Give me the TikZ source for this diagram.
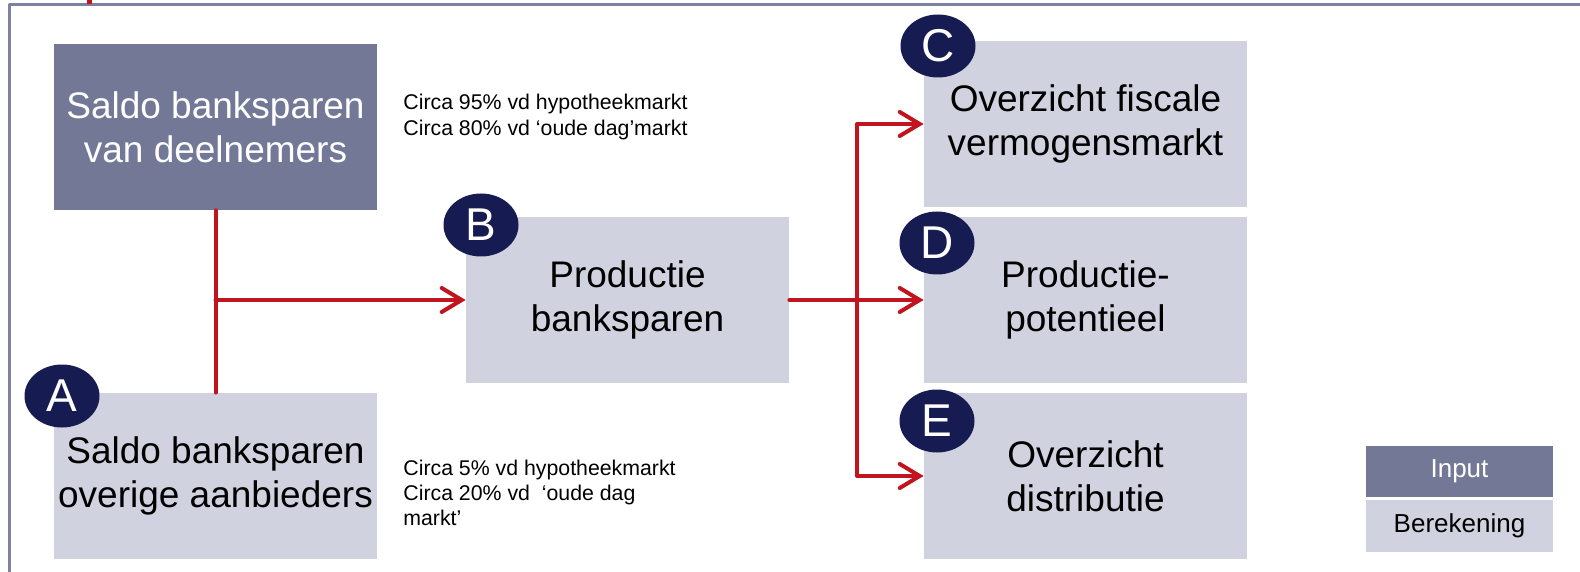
\documentclass[tikz,border=0pt]{standalone}
\usepackage{fontspec}
\setmainfont{Liberation Sans}
\usetikzlibrary{arrows.meta,shapes.geometric}
\definecolor{inputblue}{RGB}{115,120,150}
\definecolor{calcgrey}{RGB}{208,211,223}
\definecolor{badgenavy}{RGB}{22,28,82}
\definecolor{arrowred}{RGB}{192,20,31}
\definecolor{framegrey}{RGB}{125,130,162}
\begin{document}
\begin{tikzpicture}[x=0.5pt, y=-0.5pt, line join=round, line cap=round,
	box/.style={rectangle, minimum width=161.5pt, minimum height=83pt, inner sep=0pt, align=center, font=\fontsize{18.5}{22}\selectfont},
	inbox/.style={box, fill=inputblue, text=white},
	calcbox/.style={box, fill=calcgrey, text=black},
	badge/.style={ellipse, fill=badgenavy, text=white, minimum width=37.5pt, minimum height=31.5pt, inner sep=0pt, font=\fontsize{23}{23}\selectfont},
	note/.style={anchor=west, align=left, inner sep=0pt, font=\fontsize{10.65}{12.6}\selectfont},
	flow/.style={draw=arrowred, line width=2pt},
	>={Straight Barb[length=10pt, width=12pt, line cap=round]}]
	\useasboundingbox (0,0) rectangle (1580,572);
	\draw[framegrey, line width=1.5pt] (9,600) -- (9,5) -- (1600,5);
	\fill[arrowred] (87,0) rectangle (92,4);
	\node[inbox] (saldo) at (215.5,127) {Saldo banksparen\\van deelnemers};
	\node[calcbox] (overig) at (215.5,476) {Saldo banksparen\\overige aanbieders};
	\node[calcbox] (prod) at (627.5,300) {Productie\\banksparen};
	\node[calcbox] (fiscaal) at (1085.5,124) {Overzicht fiscale\\vermogensmarkt};
	\node[calcbox] (potentieel) at (1085.5,300) {Productie-\\potentieel};
	\node[calcbox] (distributie) at (1085.5,476) {Overzicht\\distributie};
	\node[note] (noteboven) at (403,117) {Circa 95\% vd hypotheekmarkt\\Circa 80\% vd ‘oude dag’markt};
	\node[note] (noteonder) at (403,493) {Circa 5\% vd hypotheekmarkt\\Circa 20\% vd~ ‘oude dag\\markt’};
	\coordinate (split) at (857,300);
	\draw[flow] (saldo.south) -- (overig.north);
	\draw[flow, ->] (saldo.south |- prod.west) -- (prod.west);
	\draw[flow] (prod.east) -- (split);
	\draw[flow, ->] (split) -- (potentieel.west);
	\draw[flow, ->] (split) |- (fiscaal.west);
	\draw[flow, ->] (split) |- (distributie.west);
	\node[badge] (badgeA) at (62,396) {A};
	\node[badge] (badgeB) at (481,225) {B};
	\node[badge] (badgeC) at (938,46) {C};
	\node[badge] (badgeD) at (937,243) {D};
	\node[badge] (badgeE) at (937,421) {E};
	\node[box, fill=inputblue, text=white, minimum width=93.5pt, minimum height=25.5pt, font=\fontsize{13}{13}\selectfont] (keyinput) at (1459.5,471.5) {Input};
	\node[box, fill=calcgrey, minimum width=93.5pt, minimum height=26pt, font=\fontsize{13}{13}\selectfont] (keycalc) at (1459.5,526) {Berekening};
\end{tikzpicture}
\end{document}
